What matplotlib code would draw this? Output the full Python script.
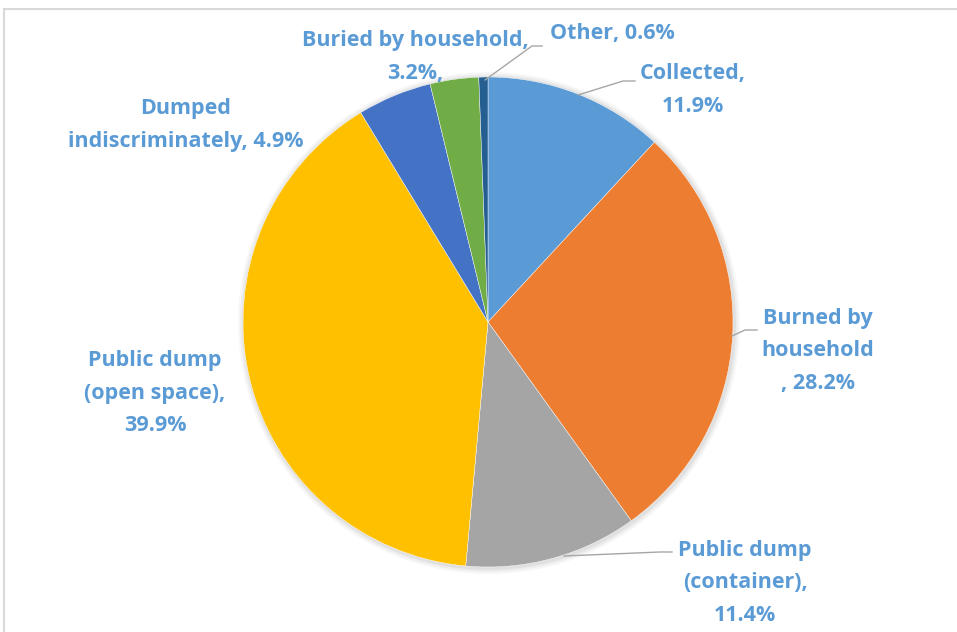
import matplotlib
matplotlib.use("Agg")
import matplotlib.pyplot as plt
from matplotlib.patches import Rectangle, Circle

categories = ["Collected", "Burned by household", "Public dump (container)",
              "Public dump (open space)", "Dumped indiscriminately",
              "Buried by household", "Other"]
values = [11.9, 28.2, 11.4, 39.9, 4.9, 3.2, 0.6]
colors = ["#5B9BD5", "#ED7D31", "#A5A5A5", "#FFC000", "#4472C4", "#70AD47", "#255E91"]
label_texts = ["Collected,\n11.9%", "Burned by\nhousehold\n, 28.2%",
               "Public dump\n(container),\n11.4%", "Public dump\n(open space),\n39.9%",
               "Dumped\nindiscriminately, 4.9%", "Buried by household,\n3.2%,",
               "Other, 0.6%"]

W, H = 957, 632
fig = plt.figure(figsize=(W / 100, H / 100), dpi=100)
ax = fig.add_axes([0, 0, 1, 1])

def py(y):
    return H - y

cx, cy, r = 488, py(322), 245
# subtle shadow
for i, a in enumerate([0.05, 0.04, 0.03]):
    ax.add_patch(Circle((cx + 1, cy - 1), r + 2 + 2 * i, color="#000000", alpha=a, lw=0, zorder=1))

wedges, _ = ax.pie(values, colors=colors, startangle=90, counterclock=False,
                   center=(cx, cy), radius=r, frame=True,
                   wedgeprops=dict(linewidth=0.3, edgecolor="white", zorder=2))
ax.set_xlim(0, W)
ax.set_ylim(0, H)
ax.set_aspect("equal")
ax.axis("off")

# frame
ax.add_patch(Rectangle((4, py(700)), 1000, 700 - 9, fill=False, edgecolor="#D9D9D9", lw=1.5))

label_pos = [(693, 90), (818, 351), (745, 583), (155, 393), (186, 125), (415, 57), (612, 34)]
txt_color = "#5B9BD5"
for (x, y), t in zip(label_pos, label_texts):
    ax.text(x, py(y), t, ha="center", va="center", fontsize=15.5, fontweight="bold",
            family="Open Sans", color=txt_color, linespacing=1.72, zorder=5)

lc = "#A6A6A6"
leaders = [
    [(578, 95), (623, 81), (635, 81)],
    [(732, 336), (745, 330), (757, 330)],
    [(564, 556), (660, 552), (672, 552)],
    [(485, 80), (532, 46), (542, 46)],
]
for pts in leaders:
    xs = [p[0] for p in pts]
    ys = [py(p[1]) for p in pts]
    ax.plot(xs, ys, color=lc, lw=1, zorder=4)

fig.savefig("out.png", dpi=100)
